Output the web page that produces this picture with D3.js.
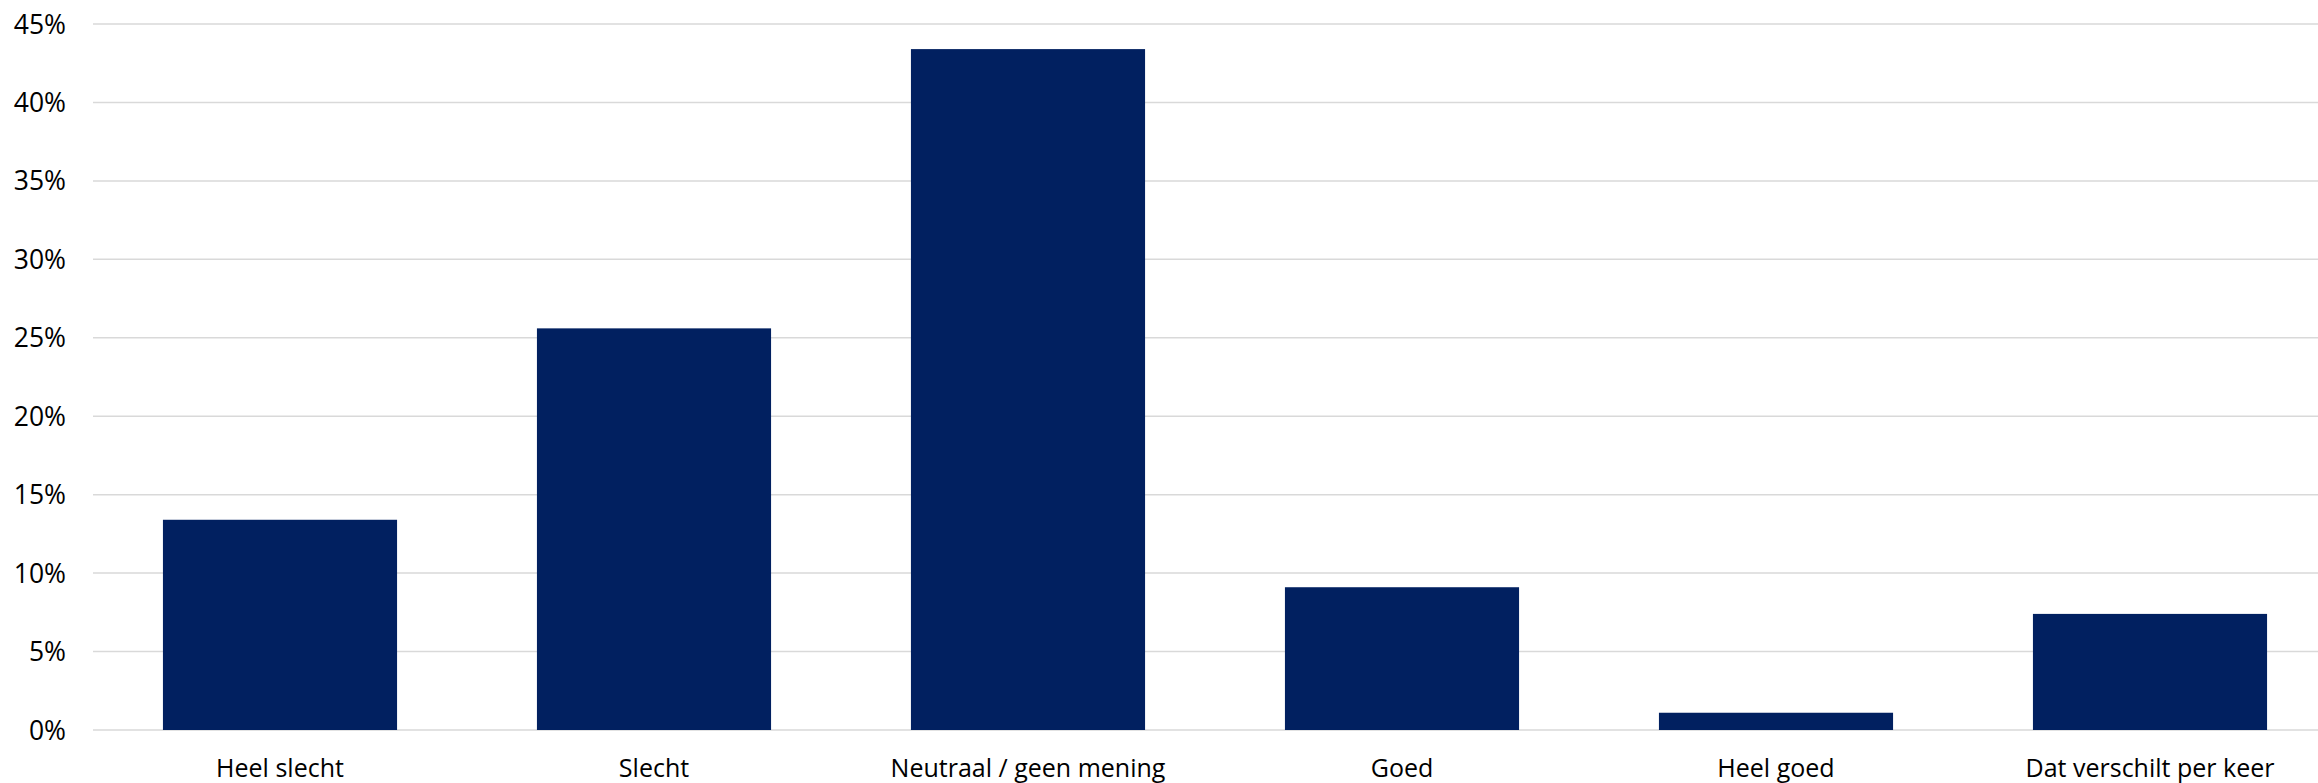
<!DOCTYPE html>
<html><head><meta charset="utf-8">
<script src="https://cdn.jsdelivr.net/npm/d3@7"></script>
<style>html,body{margin:0;padding:0;background:#fff;overflow:hidden}</style>
</head><body>
<svg id="c" width="2318" height="783"></svg>
<script>
const categories = ["Heel slecht", "Slecht", "Neutraal / geen mening", "Goed", "Heel goed", "Dat verschilt per keer"];
const values = [13.4, 25.6, 43.4, 9.1, 1.1, 7.4];
const yTicks = [0, 5, 10, 15, 20, 25, 30, 35, 40, 45];

(function () {
const svg = d3.select("#c");
const plotLeft = 93, plotRight = 2337, plotTop = 24, plotBottom = 730;
const font = "'Open Sans', 'Liberation Sans', sans-serif";

const x = d3.scaleBand().domain(categories).range([plotLeft, plotRight]).paddingInner(0.374).paddingOuter(0.187);
const y = d3.scaleLinear().domain([0, 45]).range([plotBottom, plotTop]);

svg.append("g").selectAll("line").data(yTicks).join("line")
  .attr("x1", plotLeft).attr("x2", 2318)
  .attr("y1", d => y(d)).attr("y2", d => y(d))
  .attr("stroke", "#d9d9d9").attr("stroke-width", 1.5);

svg.append("g").selectAll("text").data(yTicks).join("text")
  .attr("x", 66).attr("y", d => y(d)).attr("dy", "0.36em")
  .attr("text-anchor", "end")
  .attr("font-family", font).attr("font-size", 26.5).attr("fill", "#000")
  .text(d => d + "%");

svg.append("g").selectAll("rect").data(values).join("rect")
  .attr("x", (d, i) => x(categories[i]))
  .attr("width", x.bandwidth())
  .attr("y", d => y(d))
  .attr("height", d => y(0) - y(d))
  .attr("fill", "#012060");

svg.append("g").selectAll("text").data(categories).join("text")
  .attr("x", d => x(d) + x.bandwidth() / 2).attr("y", 777)
  .attr("text-anchor", "middle")
  .attr("font-family", font).attr("font-size", 25).attr("fill", "#000")
  .text(d => d);
})();
</script>
</body></html>
